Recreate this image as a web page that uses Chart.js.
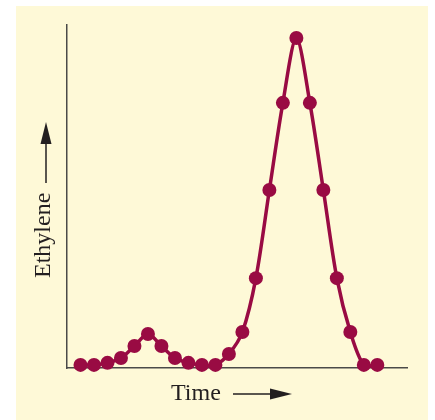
<!DOCTYPE html>
<html>
<head>
<meta charset="utf-8">
<script src="https://cdn.jsdelivr.net/npm/chart.js@4"></script>
<style>
  html, body { margin: 0; padding: 0; background: #ffffff; }
  #panel { position: absolute; left: 16px; top: 6px; width: 412px; height: 414px; background: #fef9d7; }
  #wrap { position: absolute; left: 0; top: 0; width: 435px; height: 420px; }
</style>
</head>
<body>
<div id="panel"></div>
<div id="wrap"><canvas id="chart" width="435" height="420"></canvas></div>
<script>
// Time steps (arbitrary units) and ethylene level (relative, peak ~ 96)
const timeSteps = [0, 1, 2, 3, 4, 5, 6, 7, 8, 9, 10, 11, 12, 13, 14, 15, 16, 17, 18, 19, 20, 21, 22];
const ethylene = [0.9, 0.9, 1.5, 2.9, 6.4, 9.9, 6.4, 2.9, 1.5, 0.9, 0.9, 4.1, 10.5, 26.2, 51.9, 77.3, 96.2, 77.3, 51.9, 26.2, 10.5, 0.9, 0.9];

const xTitle = 'Time';
const yTitle = 'Ethylene';

const lineColor = '#990b43';
const inkColor = '#231f20';

// Draws the axis titles with their arrows
const axisLabels = {
    id: 'axisLabels',
    afterDraw(chart) {
        const ctx = chart.ctx;
        ctx.save();
        ctx.fillStyle = inkColor;
        ctx.strokeStyle = inkColor;
        ctx.lineWidth = 1.5;
        ctx.font = '24px "Liberation Serif", serif';

        // x title + arrow
        ctx.textAlign = 'left';
        ctx.textBaseline = 'alphabetic';
        ctx.fillText(xTitle, 171, 400);
        ctx.beginPath();
        ctx.moveTo(233, 394);
        ctx.lineTo(272, 394);
        ctx.stroke();
        ctx.beginPath();
        ctx.moveTo(292, 394);
        ctx.lineTo(270, 388.5);
        ctx.lineTo(270, 399.5);
        ctx.closePath();
        ctx.fill();

        // y title + arrow
        ctx.save();
        ctx.translate(50, 278);
        ctx.rotate(-Math.PI / 2);
        ctx.fillText(yTitle, 0, 0);
        ctx.restore();
        ctx.beginPath();
        ctx.moveTo(46, 183);
        ctx.lineTo(46, 141);
        ctx.stroke();
        ctx.beginPath();
        ctx.moveTo(46, 122);
        ctx.lineTo(40.5, 144);
        ctx.lineTo(51.5, 144);
        ctx.closePath();
        ctx.fill();
        ctx.restore();
    }
};

new Chart(document.getElementById('chart'), {
    type: 'line',
    data: {
        labels: timeSteps,
        datasets: [{
            data: timeSteps.map((t, i) => ({ x: t, y: ethylene[i] })),
            borderColor: lineColor,
            backgroundColor: lineColor,
            borderWidth: 3.5,
            pointRadius: 7,
            pointBorderWidth: 0,
            tension: 0.3,
            clip: false
        }]
    },
    options: {
        responsive: false,
        animation: false,
        layout: { padding: { left: 67, top: 25, right: 28, bottom: 52 } },
        scales: {
            x: {
                type: 'linear',
                min: -1,
                max: 24.2,
                grid: { display: false, drawTicks: false },
                ticks: { display: false },
                border: { display: true, color: '#4a4a48', width: 1.5 }
            },
            y: {
                min: 0,
                max: 100,
                grid: { display: false, drawTicks: false },
                ticks: { display: false },
                border: { display: true, color: '#4a4a48', width: 1.5 }
            }
        },
        plugins: {
            legend: { display: false },
            tooltip: { enabled: false }
        }
    },
    plugins: [axisLabels]
});
</script>
</body>
</html>
